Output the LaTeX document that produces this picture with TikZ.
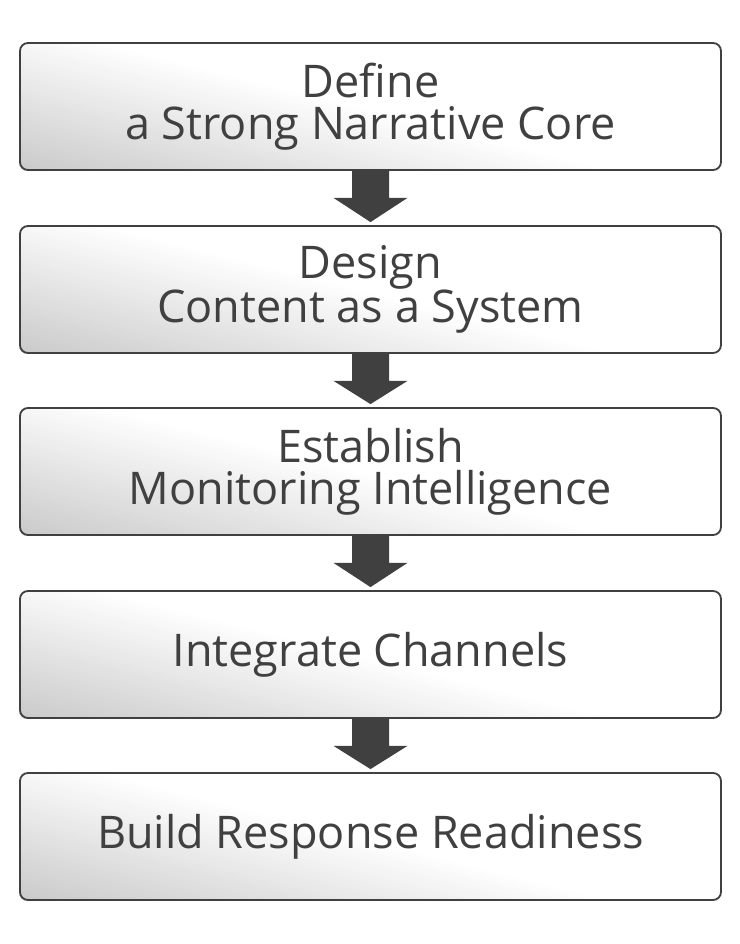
\documentclass[tikz,border=0pt]{standalone}
\usepackage{fontspec}
\setmainfont{Open Sans}
\usetikzlibrary{calc,backgrounds}
\definecolor{ink}{HTML}{404040}
\tikzset{
  stepbox/.style={draw=ink, line width=1.8pt, rounded corners=8pt,
    minimum width=701pt, minimum height=127pt, inner sep=0pt,
    align=center, text=ink, font=\fontsize{45}{42}\selectfont},
  blockarrow/.style={fill=ink, draw=none}
}
\newcommand{\blockarr}[2]{%
  \path let \p1=(#1.south), \p2=(#2.north) in
    [blockarrow] (\x1-18.5pt,\y1) -- (\x1+18.5pt,\y1) -- (\x1+18.5pt,\y1-27pt)
    -- (\x1+37pt,\y1-27pt) -- (\x1,\y2+3pt) -- (\x1-37pt,\y1-27pt)
    -- (\x1-18.5pt,\y1-27pt) -- cycle;}
\newcommand{\boxshade}[1]{%
  \begin{scope}[on background layer]
    \begin{scope}
      \clip[rounded corners=8pt] (#1.south west) rectangle (#1.north east);
      \fill[white] (#1.south west) rectangle (#1.north east);
      \begin{scope}[shift={(#1.center)}, rotate=-14]
        \foreach \i in {0,...,39}{
          \pgfmathsetmacro\shadepct{21*(1-\i/39)}
          \pgfmathsetmacro\ylo{\i==0 ? -220 : -150+\i*3.75}
          \pgfmathsetmacro\yhi{-150+(\i+1)*3.75+0.6}
          \fill[black!\shadepct] (-420,\ylo) rectangle (420,\yhi);
        }
      \end{scope}
    \end{scope}
  \end{scope}}
\begin{document}
\begin{tikzpicture}[x=1pt,y=1pt]
\useasboundingbox (0,0) rectangle (739,944);
\node[stepbox] (s1) at (370.5,837.5) {Define\\a Strong Narrative Core};
\node[stepbox] (s2) at (370.5,654.5) {Design\\Content as a System};
\node[stepbox] (s3) at (370.5,472.5) {Establish\\Monitoring Intelligence};
\node[stepbox] (s4) at (370.5,289.5) {Integrate Channels};
\node[stepbox] (s5) at (370.5,107.5) {Build Response Readiness};
\boxshade{s1}
\boxshade{s2}
\boxshade{s3}
\boxshade{s4}
\boxshade{s5}
\blockarr{s1}{s2}
\blockarr{s2}{s3}
\blockarr{s3}{s4}
\blockarr{s4}{s5}
\end{tikzpicture}
\end{document}
